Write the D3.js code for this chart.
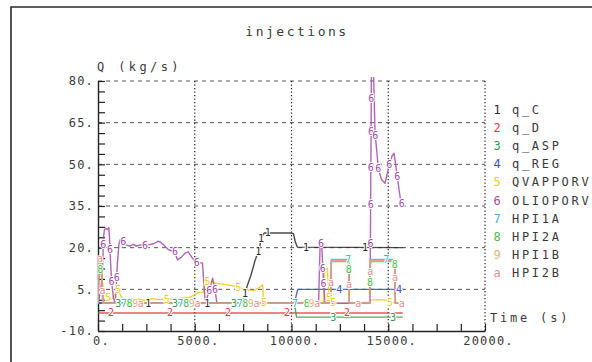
<!DOCTYPE html>
<html>
<head>
<meta charset="utf-8">
<script src="https://cdn.jsdelivr.net/npm/d3@7"></script>
<style>
  html, body { margin: 0; padding: 0; background: #fff; }
  svg { display: block; }
  text { font-family: "DejaVu Sans Mono", monospace; fill: #3a3a3a; }
</style>
</head>
<body>
<svg id="chart" width="592" height="362"></svg>
<script>
// Curve names, plot symbols and colours
const names   = ["q_C", "q_D", "q_ASP", "q_REG", "QVAPPORV", "OLIOPORV", "HPI1A", "HPI2A", "HPI1B", "HPI2B"];
const symbols = ["1", "2", "3", "4", "5", "6", "7", "8", "9", "a"];
const colors  = ["#2b2b2b", "#e8383d", "#2e9a4e", "#3a56b8", "#f2c81e", "#a24aa8", "#4aaee6", "#46c046", "#e2b57a", "#f08a8a"];

// Axis ticks
const xTicks = [0, 5000, 10000, 15000, 20000];
const yTicks = [-10, 5, 20, 35, 50, 65, 80];

// Mass flow rates [time (s), Q (kg/s)]
const q_C = [[0,0],[7450,0],[7550,2],[7700,6],[7900,10],[8100,15],[8250,18],[8350,20],[8450,24],[8600,25.3],[9950,25.3],[10100,25],[10200,22],[10300,20.2],[15750,20]];
const q_D = [[0,-3.5],[15750,-3.5]];
const q_ASP = [[0,0],[10150,0],[10260,-5],[15750,-5]];
const q_REG = [[0,0],[10150,0],[10320,5],[15780,5]];
const QVAPPORV = [[0,0],[50,12],[100,15.5],[150,14],[250,6],[350,3],[534,2],[700,1.5],[900,3.5],[1050,5],[1150,3],[1300,1],[1600,1.2],[2000,1.5],[2400,1.0],[2800,1.6],[3200,1.3],[3548,1.5],[3900,1.4],[4300,1.8],[4700,2.0],[5000,3.0],[5200,3.8],[5450,4],[5530,7],[5650,7.7],[6000,7.3],[6500,6.8],[7000,6.2],[7252,5.7],[7600,5],[8028,4.5],[8300,5.5],[8510,6.6],[8560,0.5],[8650,0],[11650,0],[11720,12],[11850,12.5],[11950,1],[12163,0.2],[12400,0],[14000,0],[14060,1.2],[14500,1.3],[14920,1.1],[15090,0.2],[15700,0]];
const OLIOPORV = [[0,0],[150,5],[230,12],[290,24],[330,26.4],[400,27],[480,26.5],[560,27.2],[590,24],[640,16],[700,8],[780,3],[850,0.5],[900,0.5],[1000,14],[1080,21],[1137,22.8],[1309,22.1],[1450,21],[1654,20.5],[1800,21.2],[2000,20.6],[2200,21],[2343,20.8],[2600,21],[2900,21.5],[3100,22.3],[3204,22.1],[3400,21],[3600,19.5],[3800,18.8],[3979,18.5],[4100,15.6],[4300,16.5],[4500,18],[4668,18.5],[4900,16],[5099,14.6],[5400,14.5],[5530,1.2],[5600,1],[5926,9],[6047,5],[6133,0.5],[6200,0],[11400,0],[11480,21.6],[11560,21.6],[11650,8],[11730,0.5],[11800,0],[14060,0],[14140,95],[14200,95],[14315,61.7],[14487,48.6],[14650,44.5],[14832,43.2],[15056,49.8],[15200,53],[15297,54],[15469,45.5],[15659,36]];
const HPI1A = [[0,0],[40,11],[180,11],[240,0],[12020,0],[12060,15.8],[12950,15.8],[12990,0],[14040,0],[14080,15.8],[15330,15.8],[15370,0],[15750,0]];
const HPI2A = [[0,0],[40,12],[200,12],[260,0],[12020,0],[12060,15.0],[12950,15.0],[12990,0],[14040,0],[14080,15.0],[15330,15.0],[15370,0],[15750,0]];
const HPI1B = [[0,0],[30,15],[180,15],[250,0],[12020,0],[12060,15.2],[12950,15.2],[12990,0],[14040,0],[14080,15.2],[15330,15.2],[15370,0],[15750,0]];
const HPI2B = [[0,0],[30,16],[150,16],[200,5],[260,4.5],[300,0],[12020,0],[12060,15.2],[12950,15.2],[12990,0],[14040,0],[14080,15.2],[15330,15.2],[15370,0],[15750,0]];

// Times at which each curve carries its plot symbol
const q_C_marks = [2600, 5650, 7600, 8280, 8430, 8770, 10750, 13800];
const q_D_marks = [670, 3720, 6720, 9770, 12870];
const q_ASP_marks = [1050, 3980, 7030, 12160, 15245];
const q_REG_marks = [12470, 15560];
const QVAPPORV_marks = [534, 1050, 3548, 5650, 7252, 8580, 11940, 12163, 15090];
const OLIOPORV_marks = [275, 620, 700, 966, 1309, 2429, 3979, 5099, 5750, 6047, 11520, 11620, 11660, 14078, 14090, 14101, 14112, 14122, 14330, 14487, 15056, 15469, 15700];
const HPI1A_marks = [1340, 4270, 7320, 10180, 12930, 14900];
const HPI2A_marks = [120, 1630, 4560, 7610, 10790, 12958, 14060, 15333];
const HPI1B_marks = [1920, 4850, 7900, 11040];
const HPI2B_marks = [100, 230, 2210, 5140, 8190, 11330, 12040, 12972, 13450, 14070, 15346, 15700];

const seriesData  = [q_C, q_D, q_ASP, q_REG, QVAPPORV, OLIOPORV, HPI1A, HPI2A, HPI1B, HPI2B];
const seriesMarks = [q_C_marks, q_D_marks, q_ASP_marks, q_REG_marks, QVAPPORV_marks, OLIOPORV_marks, HPI1A_marks, HPI2A_marks, HPI1B_marks, HPI2B_marks];

const svg = d3.select("#chart");
const x = d3.scaleLinear().domain([0, 20000]).range([98, 485]);
const y = d3.scaleLinear().domain([-10, 80]).range([331, 81]);

// Page frame
svg.append("path").attr("d", "M11,362V7H592").attr("fill", "none").attr("stroke", "#2a2a2a").attr("stroke-width", 1.6);

// Titles
svg.append("text").attr("x", 297).attr("y", 36).attr("text-anchor", "middle")
  .style("font-size", "13px").style("letter-spacing", "2.5px").text("injections");
svg.append("text").attr("x", 97).attr("y", 71)
  .style("font-size", "12px").style("letter-spacing", "3.4px").text("Q (kg/s)");
svg.append("text").attr("x", 490).attr("y", 322)
  .style("font-size", "12px").style("letter-spacing", "2.8px").text("Time (s)");

// Grid: dashed horizontal lines, dotted vertical lines
svg.append("g").selectAll("line").data(yTicks.filter(v => v > -10)).join("line")
  .attr("x1", x(0)).attr("x2", x(20000)).attr("y1", d => y(d)).attr("y2", d => y(d))
  .attr("stroke", "#555").attr("stroke-width", 1).attr("stroke-dasharray", "4,4");
svg.append("g").selectAll("line").data(xTicks.filter(v => v > 0)).join("line")
  .attr("x1", d => x(d)).attr("x2", d => x(d)).attr("y1", y(80)).attr("y2", y(-10))
  .attr("stroke", "#222").attr("stroke-width", 1.2).attr("stroke-dasharray", "1.3,2.2");

// Axes with inward ticks
const fmt = d => d + ".";
const yAxis = d3.axisLeft(y).tickValues(d3.range(-10, 80.01, 3.75)).tickSizeInner(-7).tickSizeOuter(0)
  .tickPadding(5).tickFormat(d => yTicks.includes(d) ? fmt(d) : "");
const gy = svg.append("g").attr("transform", `translate(${x(0)},0)`).call(yAxis);
const xAxis = d3.axisBottom(x).tickValues(d3.range(0, 20000.1, 1250)).tickSizeInner(-7).tickSizeOuter(0)
  .tickPadding(5).tickFormat(d => xTicks.includes(d) ? fmt(d) : "");
const gx = svg.append("g").attr("transform", `translate(0,${y(-10)})`).call(xAxis);
[gx, gy].forEach(g => {
  g.select(".domain").attr("stroke", "#222").attr("stroke-width", 1.4);
  g.selectAll(".tick line").attr("stroke", "#222").attr("stroke-width", 1.2);
  g.selectAll(".tick text").style("font-family", "DejaVu Sans Mono, monospace")
    .style("font-size", "12px").style("letter-spacing", "1.2px").attr("fill", "#3a3a3a");
});
gx.selectAll(".tick text").attr("dx", 3);
gy.selectAll(".tick text").attr("dx", 1);

// Plot area clip
svg.append("clipPath").attr("id", "plotclip").append("rect")
  .attr("x", x(0)).attr("y", y(80) - 4).attr("width", x(20000) - x(0)).attr("height", y(-10) - y(80) + 4);

const line = d3.line().x(d => x(d[0])).y(d => y(d[1]));
const curves = svg.append("g").attr("clip-path", "url(#plotclip)");
seriesData.forEach((s, i) => {
  curves.append("path").datum(s).attr("d", line)
    .attr("fill", "none").attr("stroke", colors[i]).attr("stroke-width", 1.4)
    .attr("stroke-opacity", 0.85).attr("stroke-linejoin", "round");
});

// Plot symbols along each curve
function valueAt(s, t) {
  const i = d3.bisector(d => d[0]).right(s, t);
  if (i <= 0) return s[0][1];
  if (i >= s.length) return s[s.length - 1][1];
  const a = s[i - 1], b = s[i];
  return a[1] + (b[1] - a[1]) * (t - a[0]) / (b[0] - a[0]);
}
const marks = svg.append("g").attr("clip-path", "url(#plotclip)");
seriesMarks.forEach((ts, i) => {
  marks.selectAll(null).data(ts).join("text")
    .attr("x", t => x(t)).attr("y", t => y(valueAt(seriesData[i], t)))
    .attr("text-anchor", "middle").attr("dominant-baseline", "central")
    .style("font-size", "10px").style("fill", colors[i])
    .attr("stroke", "#fff").attr("stroke-width", 2).attr("paint-order", "stroke")
    .text(symbols[i]);
});

// Legend
const legend = svg.append("g");
names.forEach((n, i) => {
  const yy = 110 + i * 18.1;
  legend.append("text").attr("x", 497).attr("y", yy).attr("text-anchor", "middle")
    .attr("dominant-baseline", "central").style("font-size", "12px").style("fill", colors[i]).text(symbols[i]);
  legend.append("text").attr("x", 512).attr("y", yy).attr("dominant-baseline", "central")
    .style("font-size", "12px").style("letter-spacing", "2.7px").text(n);
});
</script>
</body>
</html>
